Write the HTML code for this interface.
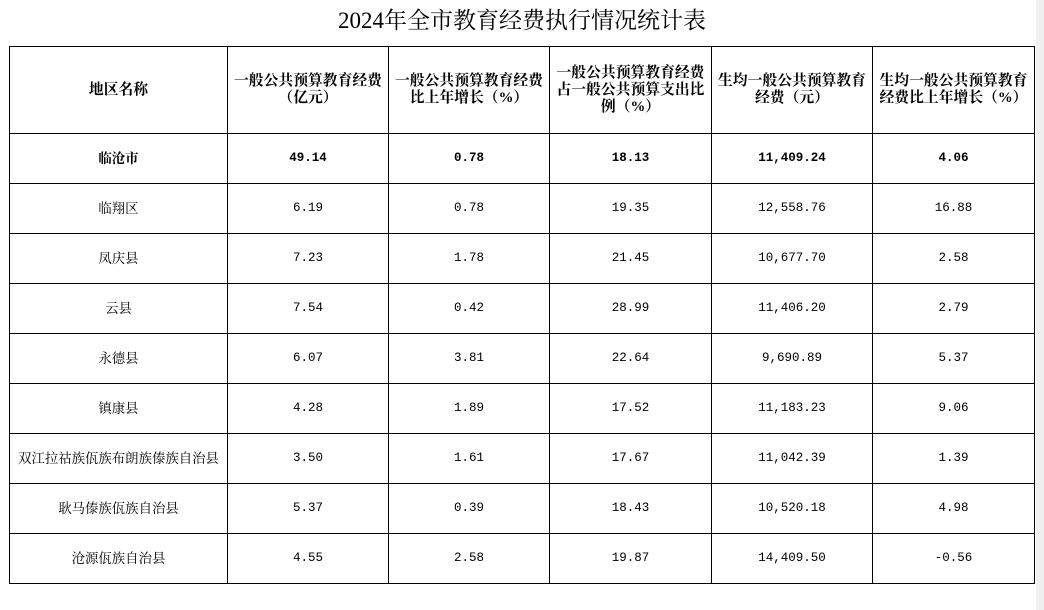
<!DOCTYPE html>
<html><head><meta charset="utf-8"><style>
body{margin:0;width:1044px;height:610px;background:#fff;position:relative;overflow:hidden;font-family:"Liberation Serif","Noto Serif CJK SC",serif;color:#000}
.t{position:absolute;top:6px;left:0;width:1044px;text-align:center;font-size:23px;line-height:30px}
table{position:absolute;left:9px;top:46px;border-collapse:collapse;table-layout:fixed}
td{border:1px solid #000;text-align:center;font-size:13.4px;padding:0;line-height:17px;white-space:nowrap}
td.n{font-family:"Liberation Mono","Noto Serif CJK SC",monospace;font-size:12.5px}
tr.h td{height:86px;font-weight:bold;font-size:14.8px;line-height:17px}
tr td{height:49px}
tr.b td{font-weight:bold}
.rs{position:absolute;left:1036px;top:0;width:8px;height:610px;background:#f0f0f0}
</style></head><body>
<div class="t">2024年全市教育经费执行情况统计表</div>
<table>
<colgroup><col style="width:218px"><col style="width:161px"><col style="width:161px"><col style="width:162px"><col style="width:161px"><col style="width:162px"></colgroup>
<tr class="h"><td>地区名称</td><td>一般公共预算教育经费<br>（亿元）</td><td>一般公共预算教育经费<br>比上年增长（%）</td><td>一般公共预算教育经费<br>占一般公共预算支出比<br>例（%）</td><td>生均一般公共预算教育<br>经费（元）</td><td>生均一般公共预算教育<br>经费比上年增长（%）</td></tr>
<tr class="b"><td>临沧市</td><td class="n">49.14</td><td class="n">0.78</td><td class="n">18.13</td><td class="n">11,409.24</td><td class="n">4.06</td></tr>
<tr><td>临翔区</td><td class="n">6.19</td><td class="n">0.78</td><td class="n">19.35</td><td class="n">12,558.76</td><td class="n">16.88</td></tr>
<tr><td>凤庆县</td><td class="n">7.23</td><td class="n">1.78</td><td class="n">21.45</td><td class="n">10,677.70</td><td class="n">2.58</td></tr>
<tr><td>云县</td><td class="n">7.54</td><td class="n">0.42</td><td class="n">28.99</td><td class="n">11,406.20</td><td class="n">2.79</td></tr>
<tr><td>永德县</td><td class="n">6.07</td><td class="n">3.81</td><td class="n">22.64</td><td class="n">9,690.89</td><td class="n">5.37</td></tr>
<tr><td>镇康县</td><td class="n">4.28</td><td class="n">1.89</td><td class="n">17.52</td><td class="n">11,183.23</td><td class="n">9.06</td></tr>
<tr><td>双江拉祜族佤族布朗族傣族自治县</td><td class="n">3.50</td><td class="n">1.61</td><td class="n">17.67</td><td class="n">11,042.39</td><td class="n">1.39</td></tr>
<tr><td>耿马傣族佤族自治县</td><td class="n">5.37</td><td class="n">0.39</td><td class="n">18.43</td><td class="n">10,520.18</td><td class="n">4.98</td></tr>
<tr><td>沧源佤族自治县</td><td class="n">4.55</td><td class="n">2.58</td><td class="n">19.87</td><td class="n">14,409.50</td><td class="n">-0.56</td></tr>
</table>
<div class="rs"></div>
</body></html>
